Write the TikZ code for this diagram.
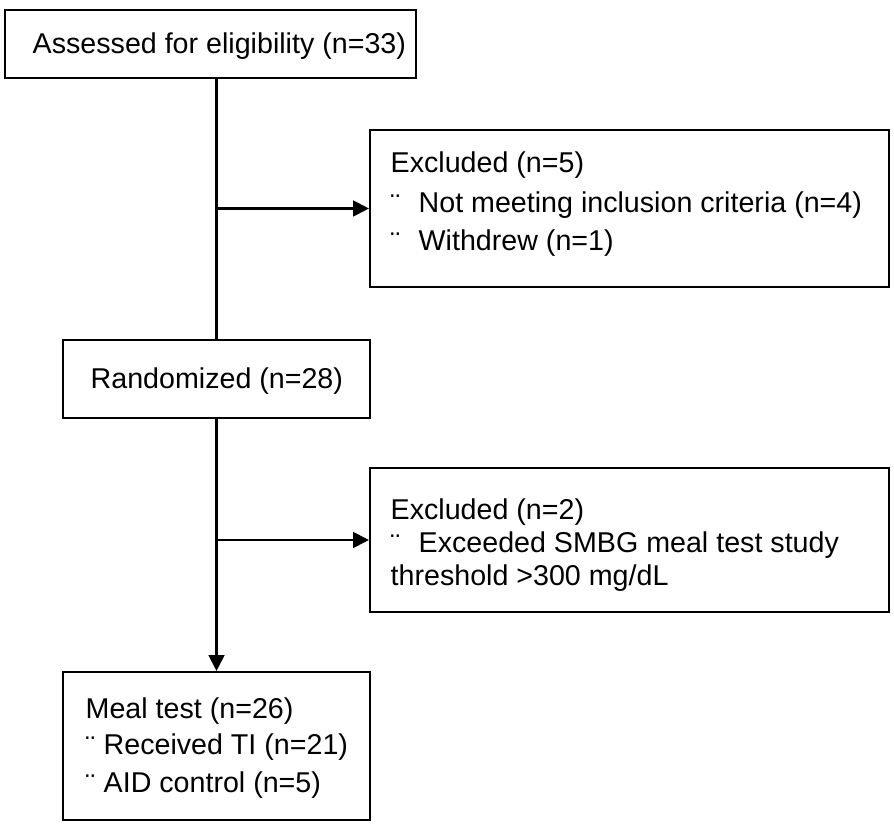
\documentclass[tikz,border=0pt]{standalone}
\usepackage{fontspec}
\setmainfont{Liberation Sans}
\usetikzlibrary{arrows.meta}
\begin{document}
\begin{tikzpicture}
    [x=0.02cm, y=-0.02cm, thick,
    box/.style = {draw=black, line width=1.2pt, inner sep=0pt},
    txt/.style = {anchor=west, inner sep=0pt, font=\fontsize{16.3}{19}\selectfont},
    arr/.style = {line width=1.2pt, -{Triangle[length=9pt,width=9pt]}}]
    \useasboundingbox (0,0) rectangle (894,827);
    % boxes
    \node[box, minimum width=411*0.02cm, minimum height=68*0.02cm] (assess) at (210.5,44) {};
    \node[box, minimum width=519*0.02cm, minimum height=157*0.02cm] (excl1) at (629.5,208.5) {};
    \node[box, minimum width=307*0.02cm, minimum height=78*0.02cm] (rand) at (216.5,379) {};
    \node[box, minimum width=519*0.02cm, minimum height=144*0.02cm] (excl2) at (629.5,540) {};
    \node[box, minimum width=307*0.02cm, minimum height=148*0.02cm] (meal) at (216.5,746) {};
    % texts
    \node[txt] (t1) at (32,46) {Assessed for eligibility (n=33)};
    \node[txt] (t2) at (390,165) {Excluded (n=5)};
    \node[txt] (t2b) at (390,205) {¨};
    \node[txt] (t2c) at (418,205) {Not meeting inclusion criteria (n=4)};
    \node[txt] (t2d) at (390,243) {¨};
    \node[txt] (t2e) at (418,243) {Withdrew (n=1)};
    \node[txt] (t3) at (90,381) {Randomized (n=28)};
    \node[txt] (t4) at (390,512) {Excluded (n=2)};
    \node[txt] (t4b) at (390,545) {¨};
    \node[txt] (t4c) at (418,545) {Exceeded SMBG meal test study};
    \node[txt] (t4d) at (390,578) {threshold >300 mg/dL};
    \node[txt] (t5) at (85,711) {Meal test (n=26)};
    \node[txt] (t5b) at (85,747) {¨};
    \node[txt] (t5c) at (103,747) {Received TI (n=21)};
    \node[txt] (t5d) at (85,785) {¨};
    \node[txt] (t5e) at (103,785) {AID control (n=5)};
    % connectors
    \coordinate (j1) at (rand |- excl1);
    \coordinate (j2) at (rand |- excl2);
    \draw[line width=1.2pt] (assess.south -| rand) -- (rand.north);
    \draw[arr] (j1) -- (excl1.west);
    \draw[arr] (j2) -- (excl2.west);
    \draw[arr] (rand.south) -- (meal.north);
\end{tikzpicture}
\end{document}
